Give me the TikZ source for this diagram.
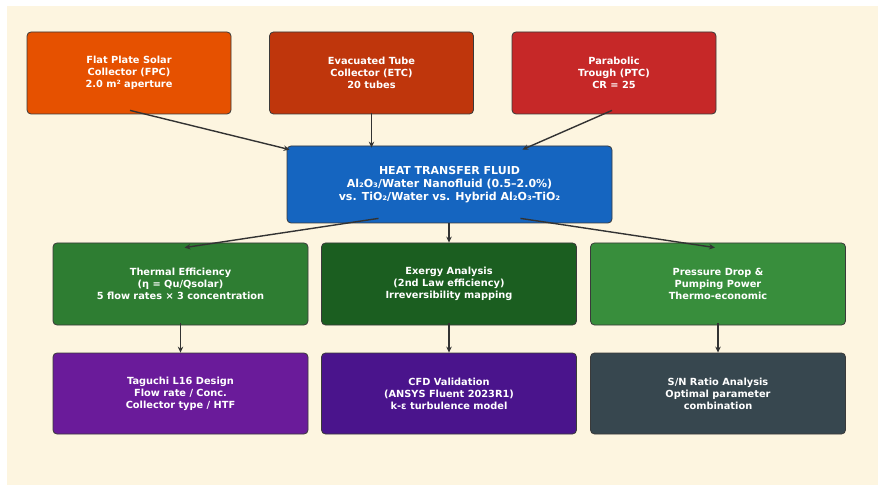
\documentclass[tikz,border=0pt]{standalone}
\usepackage{fontspec}
\setmainfont{DejaVu Sans}
\usetikzlibrary{arrows.meta}
\definecolor{bgcream}{HTML}{FDF5E0}
\definecolor{cFPC}{HTML}{E65100}
\definecolor{cETC}{HTML}{BF360C}
\definecolor{cPTC}{HTML}{C62828}
\definecolor{cHTF}{HTML}{1565C0}
\definecolor{cTE}{HTML}{2E7D32}
\definecolor{cEX}{HTML}{1B5E20}
\definecolor{cPD}{HTML}{388E3C}
\definecolor{cTG}{HTML}{6A1B9A}
\definecolor{cCFD}{HTML}{4A148C}
\definecolor{cSN}{HTML}{37474F}
\definecolor{edgec}{HTML}{3A3A3A}
\definecolor{arrc}{HTML}{333333}
\tikzset{
  boxstyle/.style={draw=edgec, line width=0.8pt, rounded corners=4pt, text=white,
    font=\bfseries\fontsize{9.8}{12}\selectfont, align=center, inner sep=0pt},
  topbox/.style={boxstyle, minimum width=204pt, minimum height=82pt},
  midbox/.style={boxstyle, minimum width=255pt, minimum height=82pt},
  lowbox/.style={boxstyle, minimum width=255pt, minimum height=81pt},
  conn/.style={draw=arrc, line width=1.4pt, -{Stealth[length=6pt,width=5.5pt]}}
}
\begin{document}
\begin{tikzpicture}[x=1pt,y=-1pt]
\useasboundingbox (0,0) rectangle (878,486);
\fill[bgcream] (7,6) rectangle (878,485);
\node[topbox, fill=cFPC] (fpc) at (129,73) {Flat Plate Solar\\Collector (FPC)\\2.0 m² aperture};
\node[topbox, fill=cETC] (etc) at (371.5,73) {Evacuated Tube\\Collector (ETC)\\20 tubes};
\node[topbox, fill=cPTC] (ptc) at (614,73) {Parabolic\\Trough (PTC)\\CR = 25};
\node[boxstyle, fill=cHTF, minimum width=325pt, minimum height=77pt,
  font=\bfseries\fontsize{11}{13}\selectfont] (htf) at (449.5,184.5)
  {HEAT TRANSFER FLUID\\Al₂O₃/Water Nanofluid (0.5–2.0\%)\\vs. TiO₂/Water vs. Hybrid Al₂O₃-TiO₂};
\node[midbox, fill=cTE] (te) at (180.5,284) {Thermal Efficiency\\(η = Qu/Qsolar)\\5 flow rates × 3 concentration};
\node[midbox, fill=cEX] (ex) at (449,284) {Exergy Analysis\\(2nd Law efficiency)\\Irreversibility mapping};
\node[midbox, fill=cPD] (pd) at (718,284) {Pressure Drop \&\\Pumping Power\\Thermo-economic};
\node[lowbox, fill=cTG] (tg) at (180.5,393.5) {Taguchi L16 Design\\Flow rate / Conc.\\Collector type / HTF};
\node[lowbox, fill=cCFD] (cfd) at (449,393.5) {CFD Validation\\(ANSYS Fluent 2023R1)\\k-ε turbulence model};
\node[lowbox, fill=cSN] (sn) at (718,393.5) {S/N Ratio Analysis\\Optimal parameter\\combination};
\draw[conn] ([xshift=1pt,yshift=4pt]fpc.south) -- ([xshift=3pt,yshift=-4pt]htf.north west);
\draw[conn] ([yshift=1pt]etc.south) -- ([xshift=-78pt,yshift=-2pt]htf.north);
\draw[conn] ([xshift=-2pt,yshift=4pt]ptc.south) -- ([xshift=-90pt,yshift=-4pt]htf.north east);
\draw[conn] ([xshift=-71pt,yshift=5pt]htf.south) -- ([xshift=4pt,yshift=-5pt]te.north);
\draw[conn] ([xshift=-0.5pt]htf.south) -- (ex.north);
\draw[conn] ([xshift=71pt,yshift=5pt]htf.south) -- ([xshift=-3pt,yshift=-5pt]pd.north);
\draw[conn] ([yshift=2pt]te.south) -- (tg.north);
\draw[conn] ([yshift=2pt]ex.south) -- (cfd.north);
\draw[conn] ([yshift=2pt]pd.south) -- (sn.north);
\end{tikzpicture}
\end{document}
